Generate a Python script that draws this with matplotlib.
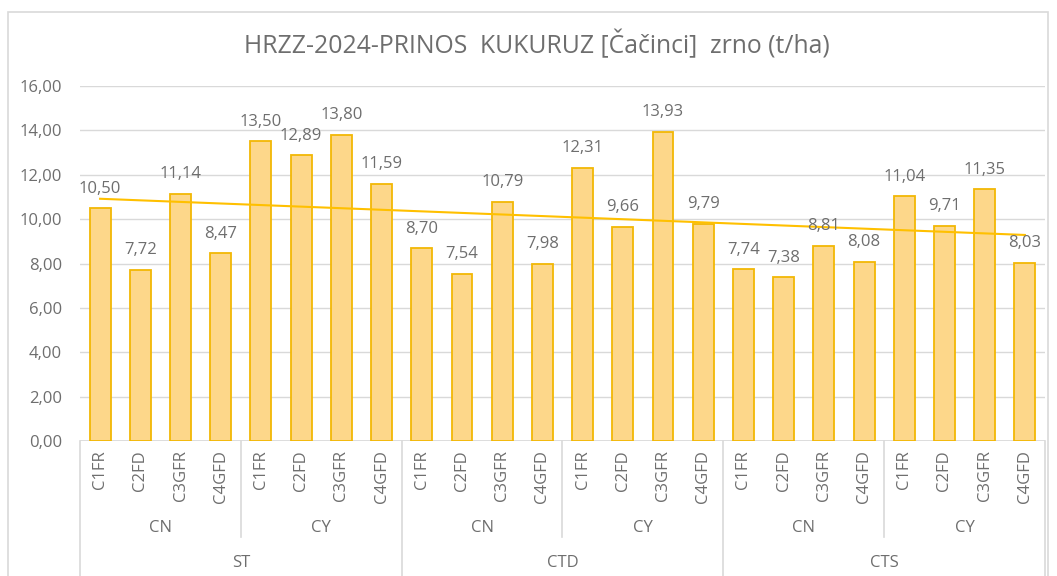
import numpy as np
import matplotlib.pyplot as plt
from matplotlib.patches import Rectangle
from matplotlib.transforms import blended_transform_factory

# data
treatments = ["C1FR", "C2FD", "C3GFR", "C4GFD"] * 6
subgroups = ["CN", "CY"] * 3
groups = ["ST", "CTD", "CTS"]
yields = [10.50, 7.72, 11.14, 8.47, 13.50, 12.89, 13.80, 11.59,
          8.70, 7.54, 10.79, 7.98, 12.31, 9.66, 13.93, 9.79,
          7.74, 7.38, 8.81, 8.08, 11.04, 9.71, 11.35, 8.03]
title = "HRZZ-2024-PRINOS  KUKURUZ [Čačinci]  zrno (t/ha)"

plt.rcParams['font.family'] = ['Open Sans', 'DejaVu Sans']
txt = '#6e6e6e'
grid = '#d9d9d9'
fs = 12

W, H = 1057, 576
fig = plt.figure(figsize=(W / 100, H / 100), dpi=100)
# outer chart frame (bottom runs off the image)
fig.patches.append(Rectangle((8 / W, -0.05), 1040 / W, (H - 12) / H + 0.05,
                             transform=fig.transFigure, fill=False,
                             edgecolor=grid, lw=1.2))

ax = fig.add_axes([80 / W, (H - 441) / H, 965 / W, 355 / H])
x = np.arange(len(yields))
ax.bar(x, yields, width=0.52, color='#fdd78a', edgecolor='#f2b705', lw=1.3, zorder=2)

# linear trendline
k, b = np.polyfit(x, yields, 1)
ax.plot(x, k * x + b, color='#ffc000', lw=1.5, zorder=3)

for xi, v in zip(x, yields):
    ax.annotate(f"{v:.2f}".replace('.', ','), (xi, v), xytext=(0, 14),
                textcoords='offset points', ha='center', va='center',
                fontsize=fs, color=txt)

ax.set_xlim(-0.5, len(yields) - 0.5)
ax.set_ylim(0, 16)
ax.set_yticks(np.arange(0, 17, 2))
ax.set_yticklabels([f"{t:.2f}".replace('.', ',') for t in np.arange(0, 17, 2)])
ax.tick_params(axis='y', length=0, pad=13, labelsize=fs, labelcolor=txt)
ax.set_xticks([])
ax.grid(axis='y', color=grid, lw=1, zorder=0)
for s in ax.spines.values():
    s.set_visible(False)
ax.axhline(0, color=grid, lw=1.2, zorder=1)

# multi-level category axis
tr = blended_transform_factory(ax.transData, ax.transAxes)
px = 1 / 355
for xi, t in zip(x, treatments):
    ax.text(xi, -9 * px, t, rotation=90, ha='center', va='top',
            fontsize=fs, color=txt, transform=tr)
for i, s in enumerate(subgroups):
    ax.text(4 * i + 1.5, -87 * px, s, ha='center', va='center',
            fontsize=fs, color=txt, transform=tr)
for i, g in enumerate(groups):
    ax.text(8 * i + 3.5, -122 * px, g, ha='center', va='center',
            fontsize=fs, color=txt, transform=tr)
for i in range(len(subgroups) + 1):
    xe = 4 * i - 0.5
    low = -0.4 if i % 2 == 0 else -96 * px
    ax.plot([xe, xe], [0, low], color=grid, lw=1.2, transform=tr, clip_on=False)

fig.text(0.508, (H - 45) / H, title, ha='center', va='center', fontsize=17.8, color=txt)

fig.savefig("out.png", dpi=100)
